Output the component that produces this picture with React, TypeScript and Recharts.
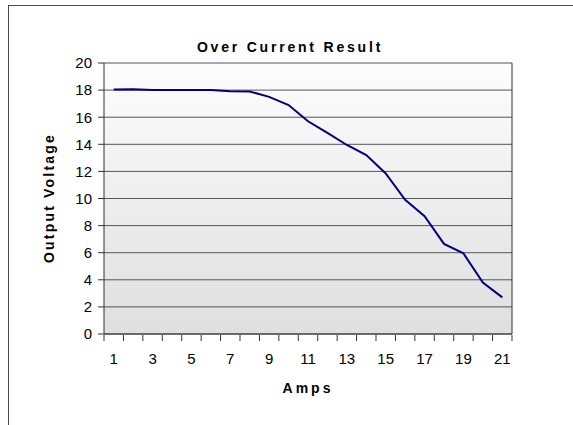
import { LineChart, Line, XAxis, YAxis, CartesianGrid } from 'recharts';

const amps = [1, 2, 3, 4, 5, 6, 7, 8, 9, 10, 11, 12, 13, 14, 15, 16, 17, 18, 19, 20, 21];
const outputVoltage = [
  18.05, 18.07, 18.0, 18.0, 18.0, 18.0, 17.92, 17.9, 17.5, 16.9, 15.7,
  14.85, 13.95, 13.2, 11.85, 9.9, 8.7, 6.65, 5.95, 3.8, 2.7,
];
const ampLabels = [1, 3, 5, 7, 9, 11, 13, 15, 17, 19, 21];
const ampTickMarks = [
  0.5, 1.5, 2.5, 3.5, 4.5, 5.5, 6.5, 7.5, 8.5, 9.5, 10.5, 11.5,
  12.5, 13.5, 14.5, 15.5, 16.5, 17.5, 18.5, 19.5, 20.5, 21.5,
];
const voltTicks = [0, 2, 4, 6, 8, 10, 12, 14, 16, 18, 20];

const data = amps.map((a, i) => ({ amps: a, volts: outputVoltage[i] }));

const font = 'Arial, "Liberation Sans", sans-serif';

export default function App() {
  return (
    <div style={{ position: 'absolute', left: 0, top: 0, width: 573, height: 425, overflow: 'hidden', background: '#fff', fontFamily: font }}>
      {/* outer chart frame, runs off the right/bottom edge */}
      <div style={{ position: 'absolute', left: 8, top: 5, width: 640, height: 500, border: '1px solid #4a4a4a' }} />

      <div style={{ position: 'absolute', left: 90, top: 39, width: 400, lineHeight: '16px', fontSize: 14, fontWeight: 'bold', textAlign: 'center', letterSpacing: 2.8 }}>
        Over Current Result
      </div>
      <div style={{ position: 'absolute', left: 208, top: 380, width: 200, lineHeight: '16px', fontSize: 14, fontWeight: 'bold', textAlign: 'center', letterSpacing: 3 }}>
        Amps
      </div>
      <div style={{ position: 'absolute', left: -51, top: 190, width: 200, height: 16, lineHeight: '16px', fontSize: 14, fontWeight: 'bold', textAlign: 'center', letterSpacing: 2.2, transform: 'rotate(-90deg)' }}>
        Output Voltage
      </div>

      <div style={{ position: 'absolute', left: 0, top: 0 }}>
        <LineChart width={573} height={425} data={data} margin={{ top: 63, right: 60, bottom: 0, left: 0 }}>
          <defs>
            <linearGradient id="plotBg" x1="0" y1="0" x2="0" y2="1">
              <stop offset="0%" stopColor="#fdfdfd" />
              <stop offset="100%" stopColor="#dfdfdf" />
            </linearGradient>
          </defs>
          <CartesianGrid xAxisId="labels" yAxisId="left" vertical={false} stroke="#555" fill="url(#plotBg)" fillOpacity={1} />
          {/* label axis sits closest to the plot; tick marks (between categories) come from the next axis */}
          <XAxis
            xAxisId="labels"
            dataKey="amps"
            type="number"
            domain={[0.5, 21.5]}
            ticks={ampLabels}
            stroke="#333"
            tickLine={false}
            tickSize={0}
            tickMargin={19}
            height={1}
            tick={{ fontSize: 15, fill: '#000', fontFamily: font }}
            interval={0}
          />
          <XAxis
            xAxisId="marks"
            dataKey="amps"
            type="number"
            domain={[0.5, 21.5]}
            ticks={ampTickMarks}
            tick={() => <g />}
            axisLine={false}
            tickLine={{ stroke: '#333' }}
            tickSize={6}
            height={90}
            interval={0}
          />
          <YAxis
            yAxisId="left"
            domain={[0, 20]}
            ticks={voltTicks}
            width={104}
            tickSize={6}
            tickMargin={6}
            stroke="#333"
            tick={{ fontSize: 15, fill: '#000', fontFamily: font }}
            interval={0}
          />
          <YAxis yAxisId="right" orientation="right" domain={[0, 20]} tick={false} tickLine={false} width={1} stroke="#333" />
          <Line
            xAxisId="labels"
            yAxisId="left"
            dataKey="volts"
            type="linear"
            stroke="#000080"
            strokeWidth={2}
            dot={false}
            isAnimationActive={false}
          />
        </LineChart>
      </div>
    </div>
  );
}
